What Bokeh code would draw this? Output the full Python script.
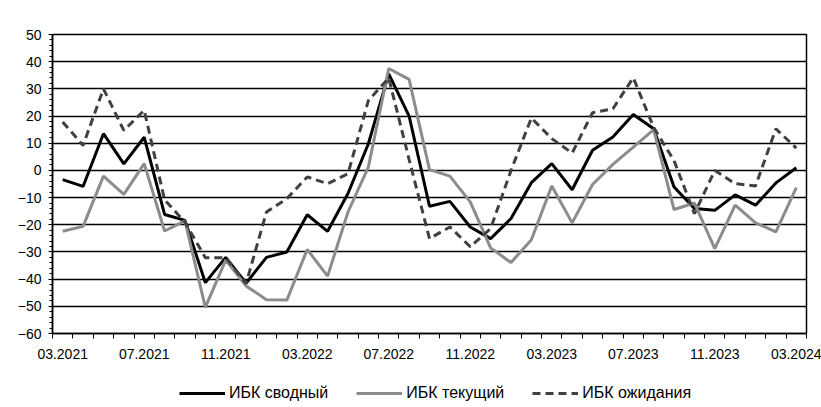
from bokeh.plotting import figure
from bokeh.layouts import column
from bokeh.models import (ColumnDataSource, FixedTicker, SingleIntervalTicker,
                          Legend, LegendItem, Range1d)
from bokeh.embed import file_html
from bokeh.resources import INLINE

months = ["03.2021", "04.2021", "05.2021", "06.2021", "07.2021", "08.2021", "09.2021",
          "10.2021", "11.2021", "12.2021", "01.2022", "02.2022", "03.2022", "04.2022",
          "05.2022", "06.2022", "07.2022", "08.2022", "09.2022", "10.2022", "11.2022",
          "12.2022", "01.2023", "02.2023", "03.2023", "04.2023", "05.2023", "06.2023",
          "07.2023", "08.2023", "09.2023", "10.2023", "11.2023", "12.2023", "01.2024",
          "02.2024", "03.2024"]

ibk_svodny = [-3.4, -5.9, 13.5, 2.4, 12.2, -16.2, -18.4, -41.3, -32, -41.5, -32, -30,
              -16.3, -22.4, -8.5, 9.8, 35.5, 20, -13.2, -11.4, -20.8, -25.1, -17.7,
              -4.5, 2.5, -7.1, 7.4, 12.3, 20.6, 15.3, -6.1, -14, -14.7, -9, -12.8,
              -4.6, 1.0]
ibk_tekushchiy = [-22.4, -20.6, -2.1, -8.8, 2.5, -22.3, -18.6, -50.4, -33, -42.5, -47.6,
                  -47.7, -29.1, -38.9, -15.3, 1.2, 37.5, 33.5, 0.3, -2.1, -11.6, -28.5,
                  -33.9, -25.5, -5.7, -19.3, -5.2, 2.2, 8.6, 15, -14.4, -12, -28.8,
                  -12.8, -19.3, -22.6, -6.3]
ibk_ozhidaniya = [17.8, 9.2, 30, 14.7, 22.1, -10.8, -19, -32.1, -32.1, -41.6, -15.3,
                  -10.4, -2.4, -4.9, -1.2, 25.7, 34, 4, -25.1, -20.8, -28.1, -21.4, 0,
                  19.3, 11.7, 6.4, 21.2, 22.7, 34.1, 15.8, 3.6, -15.9, 0, -4.9, -5.7,
                  15.3, 8.2]

series_names = ["ИБК сводный", "ИБК текущий", "ИБК ожидания"]
label_step = 4

FONT = "Liberation Sans"
STYLES = [dict(line_color="black", line_width=3),
          dict(line_color="#8c8c8c", line_width=3),
          dict(line_color="#404040", line_width=3, line_dash="8 5")]
COLS = ["a", "b", "c"]

x = list(range(len(months)))
src = ColumnDataSource(dict(x=x, a=ibk_svodny, b=ibk_tekushchiy, c=ibk_ozhidaniya))

p = figure(width=821, height=379, output_backend="svg", toolbar_location=None,
           x_range=Range1d(-0.5, len(months) - 0.5), y_range=Range1d(-60, 50),
           min_border_left=52, min_border_right=15, min_border_top=34,
           min_border_bottom=46)
p.background_fill_color = "white"
p.border_fill_color = "white"
p.outline_line_color = "black"
p.outline_line_width = 1.5

for col, st in zip(COLS, STYLES):
    p.line("x", col, source=src, **st)

# x axis
label_ticks = x[::label_step]
xa = p.xaxis[0]
xa.ticker = FixedTicker(ticks=label_ticks,
                        minor_ticks=[i - 0.5 for i in range(len(months) + 1)])
xa.major_label_overrides = {i: months[i] for i in label_ticks}
xa.major_tick_out = 0
xa.major_tick_in = 0
xa.minor_tick_out = 5
xa.minor_tick_in = 0
xa.minor_tick_line_color = "black"
xa.axis_line_color = "black"
xa.axis_line_width = 1.5
xa.major_label_standoff = 10
xa.major_label_text_font = FONT
xa.major_label_text_font_size = "14px"
xa.major_label_text_color = "black"

# y axis
ya = p.yaxis[0]
ya.ticker = SingleIntervalTicker(interval=10, num_minor_ticks=5)
ya.major_tick_out = 4
ya.major_tick_in = 0
ya.minor_tick_out = 3
ya.minor_tick_in = 0
ya.major_tick_line_color = "black"
ya.minor_tick_line_color = "black"
ya.axis_line_color = "black"
ya.axis_line_width = 1.5
ya.major_label_standoff = 7
ya.major_label_text_font = FONT
ya.major_label_text_font_size = "14px"
ya.major_label_text_color = "black"

p.xgrid.grid_line_color = None
p.ygrid.grid_line_color = "black"
p.ygrid.grid_line_width = 1.5
p.ygrid.ticker = SingleIntervalTicker(interval=10)

# legend strip underneath the chart (its series lie outside its own view)
lf = figure(width=821, height=28, output_backend="svg", toolbar_location=None,
            x_range=Range1d(1000, 1001), y_range=Range1d(1000, 1001),
            x_axis_location=None, y_axis_location=None,
            min_border_left=0, min_border_right=0, min_border_top=0,
            min_border_bottom=0)
lf.grid.visible = False
lf.outline_line_color = None
lf.background_fill_color = "white"
lf.border_fill_color = "white"
samples = [lf.line("x", col, source=src, **st) for col, st in zip(COLS, STYLES)]

legend = Legend(items=[LegendItem(label=n, renderers=[r])
                       for n, r in zip(series_names, samples)],
                location=(127, 4), orientation="horizontal",
                glyph_width=46, glyph_height=20, label_standoff=4, spacing=28,
                padding=0, margin=0, border_line_color=None,
                background_fill_alpha=0, label_text_font=FONT,
                label_text_font_size="16px", label_text_color="black")
lf.add_layout(legend, "center")

layout = column(p, lf, spacing=0)
open("out.html", "w").write(file_html(layout, INLINE))
